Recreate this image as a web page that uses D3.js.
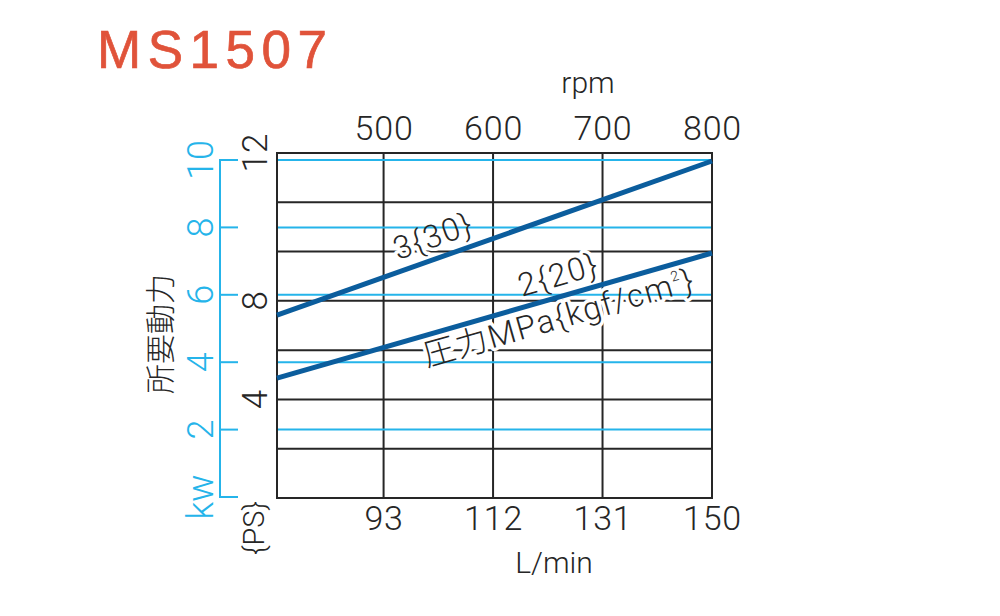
<!DOCTYPE html>
<html>
<head>
<meta charset="utf-8">
<script src="https://cdn.jsdelivr.net/npm/d3@7"></script>
<style>
  body { margin: 0; background: #fff; }
  svg { display: block; }
  text { font-family: "Roboto", "Noto Sans CJK JP", sans-serif; font-weight: 300; }
</style>
</head>
<body>
<div id="canva"></div>
<script>
// chart values
const flowDomain = [74.5, 150];            // L/min at left / right frame
const flowTicks = [93, 112, 131, 150];
const rpmTicks = [500, 600, 700, 800];
const kwTicks = [0, 2, 4, 6, 8, 10];
const kwTickLabels = ['kw', '2', '4', '6', '8', '10'];
const psGrid = [2, 4, 6, 8, 10, 12];
const psTicks = [4, 8, 14];
const psTickLabels = ['4', '8', '12'];

const lineFlows = [74.5, 150];
const line3Kw = [5.40, 9.97];   // 3 {30}
const line2Kw = [3.53, 7.24];   // 2 {20}

const lineLabels = [
    { series: 0, flow: 95.5, dy: -12, text: '3{30}' },
    { series: 1, flow: 117, dy: -11, text: '2{20}' },
    { series: 1, flow: 100.5, dy: 32, text: '圧力MPa{kgf/cm', sup: '2', tail: '}' }
];

const W = 1000, H = 616;
const pLeft = 277, pRight = 712, pTop = 153, pBottom = 498;
const cyan = '#25b4ea', ink = '#262626', blue = '#0b5d9d';

const svg = d3.select('#canva').append('svg')
    .attr('width', W)
    .attr('height', H)
    .attr('viewBox', `0 0 ${W} ${H}`);

const x = d3.scaleLinear().domain(flowDomain).range([pLeft, pRight]);
// rpm ties to flow: 93 L/min = 500 rpm, 19 L/min per 100 rpm
const rpm = d3.scaleLinear()
    .domain(flowDomain.map(f => 500 + (f - 93) * 100 / 19))
    .range([pLeft, pRight]);
const yKw = d3.scaleLinear().domain([0, 10]).range([497, 160]);
const yPs = d3.scaleLinear().domain([0, 14]).range([pBottom, pTop]);

// title
svg.append('text')
    .attr('x', 97)
    .attr('y', 68)
    .attr('fill', '#e0533a')
    .attr('stroke', '#e0533a')
    .attr('stroke-width', 0.7)
    .attr('font-size', 53)
    .attr('letter-spacing', 6.5)
    .style('font-family', '"Liberation Sans", Arial, sans-serif')
    .style('font-weight', 400)
    .text('MS1507');

// black grid (PS)
const grid = svg.append('g');
grid.selectAll('line.h')
    .data(psGrid)
    .enter()
    .append('line')
    .attr('class', 'h')
    .attr('x1', pLeft).attr('x2', pRight)
    .attr('y1', d => yPs(d)).attr('y2', d => yPs(d))
    .attr('stroke', ink)
    .attr('stroke-width', 2);

grid.selectAll('line.v')
    .data(flowTicks.slice(0, -1))
    .enter()
    .append('line')
    .attr('class', 'v')
    .attr('x1', d => x(d)).attr('x2', d => x(d))
    .attr('y1', pTop).attr('y2', pBottom)
    .attr('stroke', ink)
    .attr('stroke-width', 2);

// label halos knock out the black grid
const lineScales = [line3Kw, line2Kw].map(k => d3.scaleLinear().domain(lineFlows).range(k));
const pts = [line3Kw, line2Kw].map(k => k.map((v, i) => [x(lineFlows[i]), yKw(v)]));
const angles = pts.map(p => Math.atan2(p[1][1] - p[0][1], p[1][0] - p[0][0]) * 180 / Math.PI);

function drawLabels(g, halo) {
    const t = g.selectAll('text')
        .data(lineLabels)
        .enter()
        .append('text')
        .attr('transform', d => {
            const px = x(d.flow);
            const py = yKw(lineScales[d.series](d.flow)) + d.dy;
            return `translate(${px},${py}) rotate(${angles[d.series]})`;
        })
        .attr('font-size', 32)
        .attr('letter-spacing', 1.6)
        .attr('fill', halo ? '#fff' : ink);
    if (halo) {
        t.attr('stroke', '#fff').attr('stroke-width', 7).attr('stroke-linejoin', 'round');
    }
    t.append('tspan').text(d => d.text);
    t.filter(d => d.sup).append('tspan')
        .attr('font-size', 14)
        .attr('dy', -14)
        .text(d => d.sup);
    t.filter(d => d.tail).append('tspan')
        .attr('dy', 14)
        .text(d => d.tail);
}
drawLabels(svg.append('g'), true);

// cyan grid (kW)
svg.append('g').selectAll('line')
    .data(kwTicks.filter(d => d > 0))
    .enter()
    .append('line')
    .attr('x1', pLeft).attr('x2', pRight)
    .attr('y1', d => yKw(d)).attr('y2', d => yKw(d))
    .attr('stroke', cyan)
    .attr('stroke-width', 2);

// frame
svg.append('rect')
    .attr('x', pLeft).attr('y', pTop)
    .attr('width', pRight - pLeft).attr('height', pBottom - pTop)
    .attr('fill', 'none')
    .attr('stroke', ink)
    .attr('stroke-width', 2);

// power lines
const lineGen = d3.line();
svg.append('g').selectAll('path')
    .data(pts)
    .enter()
    .append('path')
    .attr('d', d => lineGen(d))
    .attr('fill', 'none')
    .attr('stroke', blue)
    .attr('stroke-width', 5);

drawLabels(svg.append('g'), false);

// bottom axis L/min
const xAxis = svg.append('g')
    .attr('transform', `translate(0,${pBottom})`)
    .call(d3.axisBottom(x).tickValues(flowTicks).tickSize(0).tickPadding(8));
xAxis.select('.domain').remove();
xAxis.selectAll('text')
    .attr('font-size', 34)
    .attr('letter-spacing', 0.8)
    .attr('fill', ink);
xAxis.attr('font-family', null).attr('font-size', null);

// top axis rpm
const rAxis = svg.append('g')
    .attr('transform', `translate(0,${pTop})`)
    .call(d3.axisTop(rpm).tickValues(rpmTicks).tickSize(0).tickPadding(13).tickFormat(d3.format('d')));
rAxis.select('.domain').remove();
rAxis.selectAll('text')
    .attr('font-size', 34)
    .attr('letter-spacing', 0.8)
    .attr('fill', ink);
rAxis.attr('font-family', null).attr('font-size', null);

svg.append('text')
    .attr('x', 554).attr('y', 573)
    .attr('text-anchor', 'middle')
    .attr('font-size', 30)
    .attr('fill', ink)
    .text('L/min');

svg.append('text')
    .attr('x', 588).attr('y', 93)
    .attr('text-anchor', 'middle')
    .attr('font-size', 30)
    .attr('fill', ink)
    .text('rpm');

// cyan kW axis
const kwAxisX = 220;
const kwAxis = svg.append('g');
kwAxis.append('line')
    .attr('x1', kwAxisX).attr('x2', kwAxisX)
    .attr('y1', yKw(10) - 1).attr('y2', yKw(0) + 1)
    .attr('stroke', cyan)
    .attr('stroke-width', 2);
kwAxis.selectAll('line.tick')
    .data(kwTicks)
    .enter()
    .append('line')
    .attr('class', 'tick')
    .attr('x1', kwAxisX).attr('x2', kwAxisX + 18)
    .attr('y1', d => yKw(d)).attr('y2', d => yKw(d))
    .attr('stroke', cyan)
    .attr('stroke-width', 2);
kwAxis.selectAll('text')
    .data(kwTicks)
    .enter()
    .append('text')
    .attr('transform', d => `translate(201,${yKw(d)}) rotate(-90)`)
    .attr('text-anchor', 'middle')
    .attr('dominant-baseline', 'central')
    .attr('font-size', 36)
    .attr('fill', cyan)
    .text((d, i) => kwTickLabels[i]);

// PS labels
svg.append('g').selectAll('text')
    .data(psTicks)
    .enter()
    .append('text')
    .attr('transform', d => `translate(255,${yPs(d)}) rotate(-90)`)
    .attr('text-anchor', 'middle')
    .attr('dominant-baseline', 'central')
    .attr('font-size', 35)
    .attr('fill', ink)
    .text((d, i) => psTickLabels[i]);

svg.append('text')
    .attr('transform', 'translate(254,528) rotate(-90)')
    .attr('text-anchor', 'middle')
    .attr('dominant-baseline', 'central')
    .attr('font-size', 29)
    .attr('fill', ink)
    .text('{PS}');

svg.append('text')
    .attr('transform', 'translate(160,334) rotate(-90)')
    .attr('text-anchor', 'middle')
    .attr('dominant-baseline', 'central')
    .attr('font-size', 30)
    .attr('fill', ink)
    .text('所要動力');
</script>
</body>
</html>
